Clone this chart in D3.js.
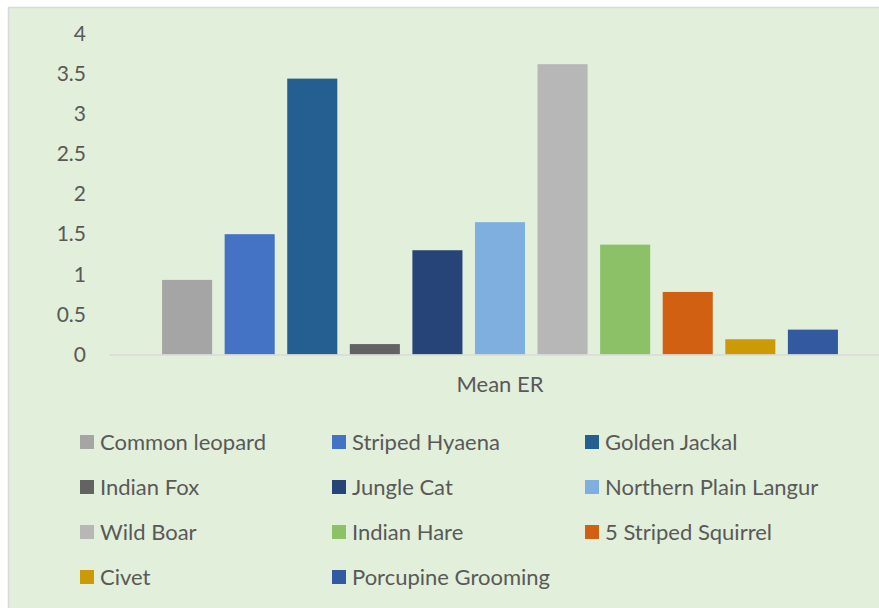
<!DOCTYPE html>
<html>
<head>
<meta charset="utf-8">
<script src="https://cdn.jsdelivr.net/npm/d3@7"></script>
<style>
  html, body { margin: 0; padding: 0; background: #ffffff; }
  svg { display: block; }
  text { font-family: Lato, "Open Sans", sans-serif; fill: #595959; }
</style>
</head>
<body>
<svg id="chart" width="879" height="608"></svg>
<script>
const categories = ["Mean ER"];
const seriesNames = ["Common leopard", "Striped Hyaena", "Golden Jackal", "Indian Fox", "Jungle Cat",
  "Northern Plain Langur", "Wild Boar", "Indian Hare", "5 Striped Squirrel", "Civet", "Porcupine Grooming"];
const seriesValues = [0.93, 1.50, 3.44, 0.13, 1.30, 1.65, 3.62, 1.37, 0.78, 0.19, 0.31];
const seriesColors = ["#a5a5a5", "#4472c4", "#255e91", "#636363", "#264478",
  "#7eafde", "#b7b7b7", "#8cc168", "#d26012", "#cc9a06", "#335aa1"];
const yTicks = [0, 0.5, 1, 1.5, 2, 2.5, 3, 3.5, 4];

const svg = d3.select("#chart");
const W = 879, H = 608;
const FONT = "Lato, 'Open Sans', sans-serif";

// chart area background + border
svg.append("rect").attr("x", 8.5).attr("y", 7.5).attr("width", W).attr("height", H)
  .attr("fill", "#e2efda").attr("stroke", "#d9d9d9").attr("stroke-width", 1.5);

const plotLeft = 109, plotRight = 891, plotTop = 33.7, plotBottom = 354.5;

const y = d3.scaleLinear().domain([0, 4]).range([plotBottom, plotTop]);
const x0 = d3.scaleBand().domain(categories).range([plotLeft, plotRight]).paddingInner(0).paddingOuter(0.068);
const x1 = d3.scaleBand().domain(seriesNames).range([0, x0.bandwidth()]).paddingInner(0.2).paddingOuter(0.1);

// y axis labels (no line)
const yAxis = d3.axisLeft(y).tickValues(yTicks).tickSize(0).tickPadding(0).tickFormat(d => String(d));
const gy = svg.append("g").attr("transform", `translate(86,0)`).call(yAxis);
gy.select(".domain").remove();
gy.selectAll("text").attr("font-size", 21).attr("fill", "#595959").style("font-family", FONT);

// bars
const data = seriesNames.map((n, i) => ({ name: n, value: seriesValues[i], color: seriesColors[i], cat: categories[0] }));
svg.append("g").selectAll("rect").data(data).join("rect")
  .attr("x", d => x0(d.cat) + x1(d.name))
  .attr("width", x1.bandwidth())
  .attr("y", d => y(d.value))
  .attr("height", d => y(0) - y(d.value))
  .attr("fill", d => d.color);

// x axis
const xAxis = d3.axisBottom(x0).tickSize(0).tickPadding(22);
const gx = svg.append("g").attr("transform", `translate(0,${plotBottom})`).call(xAxis);
gx.select(".domain").attr("stroke", "#d9d9d9").attr("stroke-width", 1.5);
gx.selectAll("text").attr("font-size", 22).attr("fill", "#595959").style("font-family", FONT);

// legend
const colX = [80, 332, 585];
const rowY = [442, 487, 532, 577];
const lg = svg.append("g").selectAll("g").data(data).join("g")
  .attr("transform", (d, i) => `translate(${colX[i % 3]},${rowY[Math.floor(i / 3)]})`);
lg.append("rect").attr("x", 0).attr("y", -7).attr("width", 14).attr("height", 14).attr("fill", d => d.color);
lg.append("text").attr("x", 20).attr("y", 0).attr("dy", "0.35em").attr("font-size", 22)
  .style("font-family", FONT).text(d => d.name);
</script>
</body>
</html>
